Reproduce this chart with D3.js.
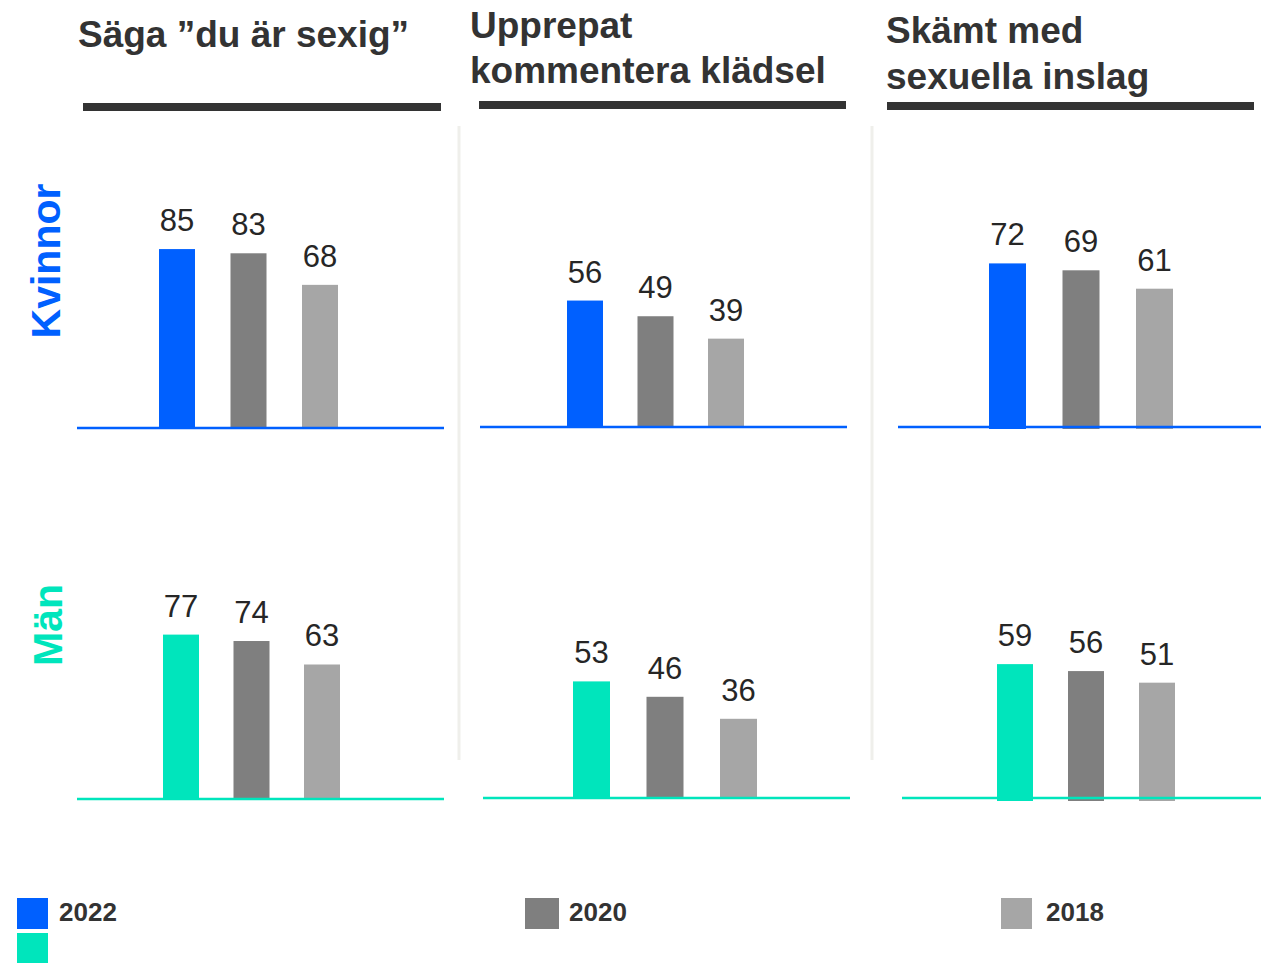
<!DOCTYPE html>
<html>
<head>
<meta charset="utf-8">
<script src="https://cdn.jsdelivr.net/npm/d3@7"></script>
<style>
  html, body { margin: 0; padding: 0; background: #fff; }
  svg { display: block; font-family: Arial, "Liberation Sans", sans-serif; }
</style>
</head>
<body>
<svg width="1261" height="963"></svg>
<script>
"use strict";

// data
const titles = [
    ["Säga ”du är sexig”"],
    ["Upprepat", "kommentera klädsel"],
    ["Skämt med", "sexuella inslag"]
];
const groups = ["Kvinnor", "Män"];
const years = ["2022", "2020", "2018"];
const kvinnor2022 = [85, 56, 72];
const kvinnor2020 = [83, 49, 69];
const kvinnor2018 = [68, 39, 61];
const man2022 = [77, 53, 59];
const man2020 = [74, 46, 56];
const man2018 = [63, 36, 51];

const blue = "#0060ff";
const teal = "#00e5bc";
const yearGrey = { "2020": "#7f7f7f", "2018": "#a6a6a6" };
const textDark = "#333333";

// cell layout: [panel][group]
const cells = [
    [{ left: 159, step: 71.5, bw: 36, bottom: 428, line: 428, px: 2.105, x0: 77, x1: 444 },
     { left: 163, step: 70.5, bw: 36, bottom: 799, line: 799, px: 2.135, x0: 77, x1: 444 }],
    [{ left: 567, step: 70.5, bw: 36, bottom: 426, line: 427, px: 2.24, x0: 480, x1: 847 },
     { left: 573, step: 73.5, bw: 37, bottom: 798, line: 798, px: 2.2, x0: 483, x1: 850 }],
    [{ left: 989, step: 73.5, bw: 37, bottom: 429, line: 427, px: 2.3, x0: 898, x1: 1261 },
     { left: 997, step: 71, bw: 36, bottom: 801, line: 798, px: 2.32, x0: 902, x1: 1261 }]
];
const titlePos = [
    { x: 78, y: [47], ul: [83, 441, 107] },
    { x: 470, y: [38, 83], ul: [479, 846, 105] },
    { x: 886, y: [43, 89], ul: [887, 1254, 106] }
];

function valuesFor(g, p) {
    if (g === 0) return [kvinnor2022[p], kvinnor2020[p], kvinnor2018[p]];
    return [man2022[p], man2020[p], man2018[p]];
}

const svg = d3.select("svg");

// separators
[459, 872].forEach(x => {
    svg.append("line")
        .attr("x1", x).attr("x2", x)
        .attr("y1", 126).attr("y2", 760)
        .attr("stroke", "#efefeb").attr("stroke-width", 3);
});

// titles + underlines
titles.forEach((lines, p) => {
    const tp = titlePos[p];
    const t = svg.append("text")
        .attr("font-size", 37).attr("font-weight", "bold")
        .attr("fill", textDark);
    lines.forEach((ln, i) => {
        t.append("tspan").attr("x", tp.x).attr("y", tp.y[i]).text(ln);
    });
    svg.append("line")
        .attr("x1", tp.ul[0]).attr("x2", tp.ul[1])
        .attr("y1", tp.ul[2]).attr("y2", tp.ul[2])
        .attr("stroke", textDark).attr("stroke-width", 8);
});

// group labels
svg.append("text")
    .attr("transform", "translate(60,261) rotate(-90)")
    .attr("text-anchor", "middle")
    .attr("font-size", 41).attr("font-weight", "bold")
    .attr("fill", blue).text(groups[0]);
svg.append("text")
    .attr("transform", "translate(62,625) rotate(-90)")
    .attr("text-anchor", "middle")
    .attr("font-size", 41).attr("font-weight", "bold")
    .attr("fill", teal).text(groups[1]);

// bars
titles.forEach((_, p) => {
    groups.forEach((grp, g) => {
        const c = cells[p][g];
        const vals = valuesFor(g, p);
        const main = g === 0 ? blue : teal;
        const color = y => y === "2022" ? main : yearGrey[y];

        const x = d3.scaleBand()
            .domain(years)
            .range([c.left, c.left + 2 * c.step + c.bw])
            .paddingInner(1 - c.bw / c.step)
            .paddingOuter(0);
        const y = d3.scaleLinear()
            .domain([0, 100])
            .range([c.bottom, c.bottom - 100 * c.px]);

        const data = years.map((yr, i) => ({ year: yr, value: vals[i] }));
        const cell = svg.append("g");

        cell.selectAll("rect")
            .data(data)
            .join("rect")
            .attr("x", d => x(d.year))
            .attr("width", x.bandwidth())
            .attr("y", d => y(d.value))
            .attr("height", d => y(0) - y(d.value))
            .attr("fill", d => color(d.year));

        cell.append("line")
            .attr("x1", c.x0).attr("x2", c.x1)
            .attr("y1", c.line).attr("y2", c.line)
            .attr("stroke", main).attr("stroke-width", 2.5);

        cell.selectAll("text.val")
            .data(data)
            .join("text")
            .attr("class", "val")
            .attr("x", d => x(d.year) + x.bandwidth() / 2)
            .attr("y", d => y(d.value) - 18)
            .attr("text-anchor", "middle")
            .attr("font-size", 31)
            .attr("fill", "#262626")
            .text(d => d.value);
    });
});

// legend
const legendItems = [
    { x: 17, w: 31, tx: 59, year: years[0], colors: [blue, teal] },
    { x: 525, w: 34, tx: 569, year: years[1], colors: [yearGrey["2020"]] },
    { x: 1001, w: 31, tx: 1046, year: years[2], colors: [yearGrey["2018"]] }
];
legendItems.forEach(it => {
    it.colors.forEach((col, i) => {
        svg.append("rect")
            .attr("x", it.x).attr("y", 898 + i * 35)
            .attr("width", it.w).attr("height", 31)
            .attr("fill", col);
    });
    svg.append("text")
        .attr("x", it.tx).attr("y", 921)
        .attr("font-size", 26).attr("font-weight", "bold")
        .attr("fill", textDark).text(it.year);
});
</script>
</body>
</html>
